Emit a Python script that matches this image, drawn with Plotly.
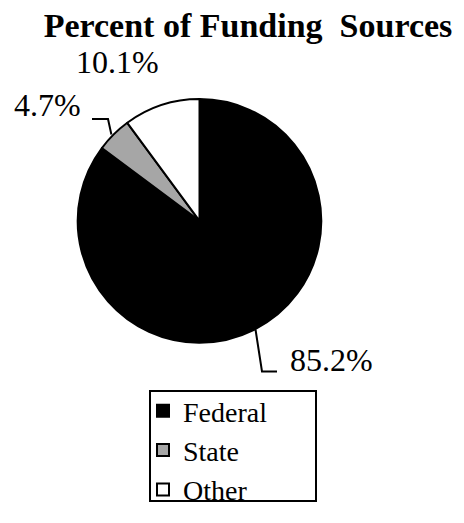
import math
import plotly.graph_objects as go

W, H = 464, 523
OFF = 8  # default page body margin on each side

categories = ["Federal", "State", "Other"]
values = [85.2, 4.7, 10.1]
label_texts = ["85.2%", "4.7%", "10.1%"]
colors = ["#000000", "#a6a6a6", "#ffffff"]

FW, FH = W - 2 * OFF, H - 2 * OFF
SERIF = "Liberation Serif"

CX, CY, R = 199.5, 226.5, 125.0

def px(x):
    return (x - OFF) / FW

def py(y):
    return 1 - (y - OFF) / FH

fig = go.Figure()
fig.add_trace(go.Pie(
    labels=categories,
    values=values,
    sort=False,
    direction="clockwise",
    rotation=0,
    textinfo="none",
    hoverinfo="label+percent",
    marker=dict(colors=colors, line=dict(color="#000000", width=2)),
    domain=dict(x=[px(CX - R), px(CX + R)], y=[py(CY + R), py(CY - R)]),
))

total = sum(values)
cum = 0
label_cfg = {
    "Federal": dict(elbow=(262, 381), end=(277, 381), text=(288, 369), xanchor="left"),
    "State": dict(elbow=(108, 122), end=(92, 122), text=(83, 108), xanchor="right"),
    "Other": dict(elbow=None, end=None, text=(117, 63), xanchor="center"),
}
annotations = []
shapes = []
for cat, v, t in zip(categories, values, label_texts):
    mid = (cum + v / 2) / total * 2 * math.pi
    cum += v
    sx = CX + R * math.sin(mid)
    sy = CY - R * math.cos(mid)
    cfg = label_cfg[cat]
    if cfg["elbow"] is not None:
        ex, ey = cfg["elbow"]
        fx, fy = cfg["end"]
        shapes.append(dict(
            type="path", xref="paper", yref="paper",
            path=f"M {px(sx)},{py(sy)} L {px(ex)},{py(ey)} L {px(fx)},{py(fy)}",
            line=dict(color="#000000", width=2),
        ))
    tx, ty = cfg["text"]
    annotations.append(dict(
        x=px(tx), y=py(ty), xref="paper", yref="paper",
        text=t, showarrow=False, xanchor=cfg["xanchor"], yanchor="middle",
        font=dict(family=SERIF, size=32, color="#000000"),
    ))

shapes.append(dict(
    type="rect", xref="paper", yref="paper",
    x0=px(150), x1=px(316), y0=py(514), y1=py(401),
    line=dict(color="#000000", width=2), fillcolor="rgba(0,0,0,0)",
))

fig.update_layout(
    width=FW, height=FH,
    margin=dict(l=0, r=0, t=0, b=0),
    paper_bgcolor="#ffffff",
    plot_bgcolor="#ffffff",
    font=dict(family=SERIF, color="#000000"),
    title=dict(
        text="<b>Percent of Funding  Sources</b>",
        x=px(248), xanchor="center", y=py(25), yanchor="middle",
        font=dict(family=SERIF, size=34, color="#000000"),
    ),
    showlegend=True,
    legend=dict(
        x=px(143), xanchor="left", y=py(396), yanchor="top",
        font=dict(family=SERIF, size=28, color="#000000"),
        bgcolor="rgba(0,0,0,0)", borderwidth=0,
        traceorder="normal",
    ),
    annotations=annotations,
    shapes=shapes,
)

fig.write_html("out.html")
